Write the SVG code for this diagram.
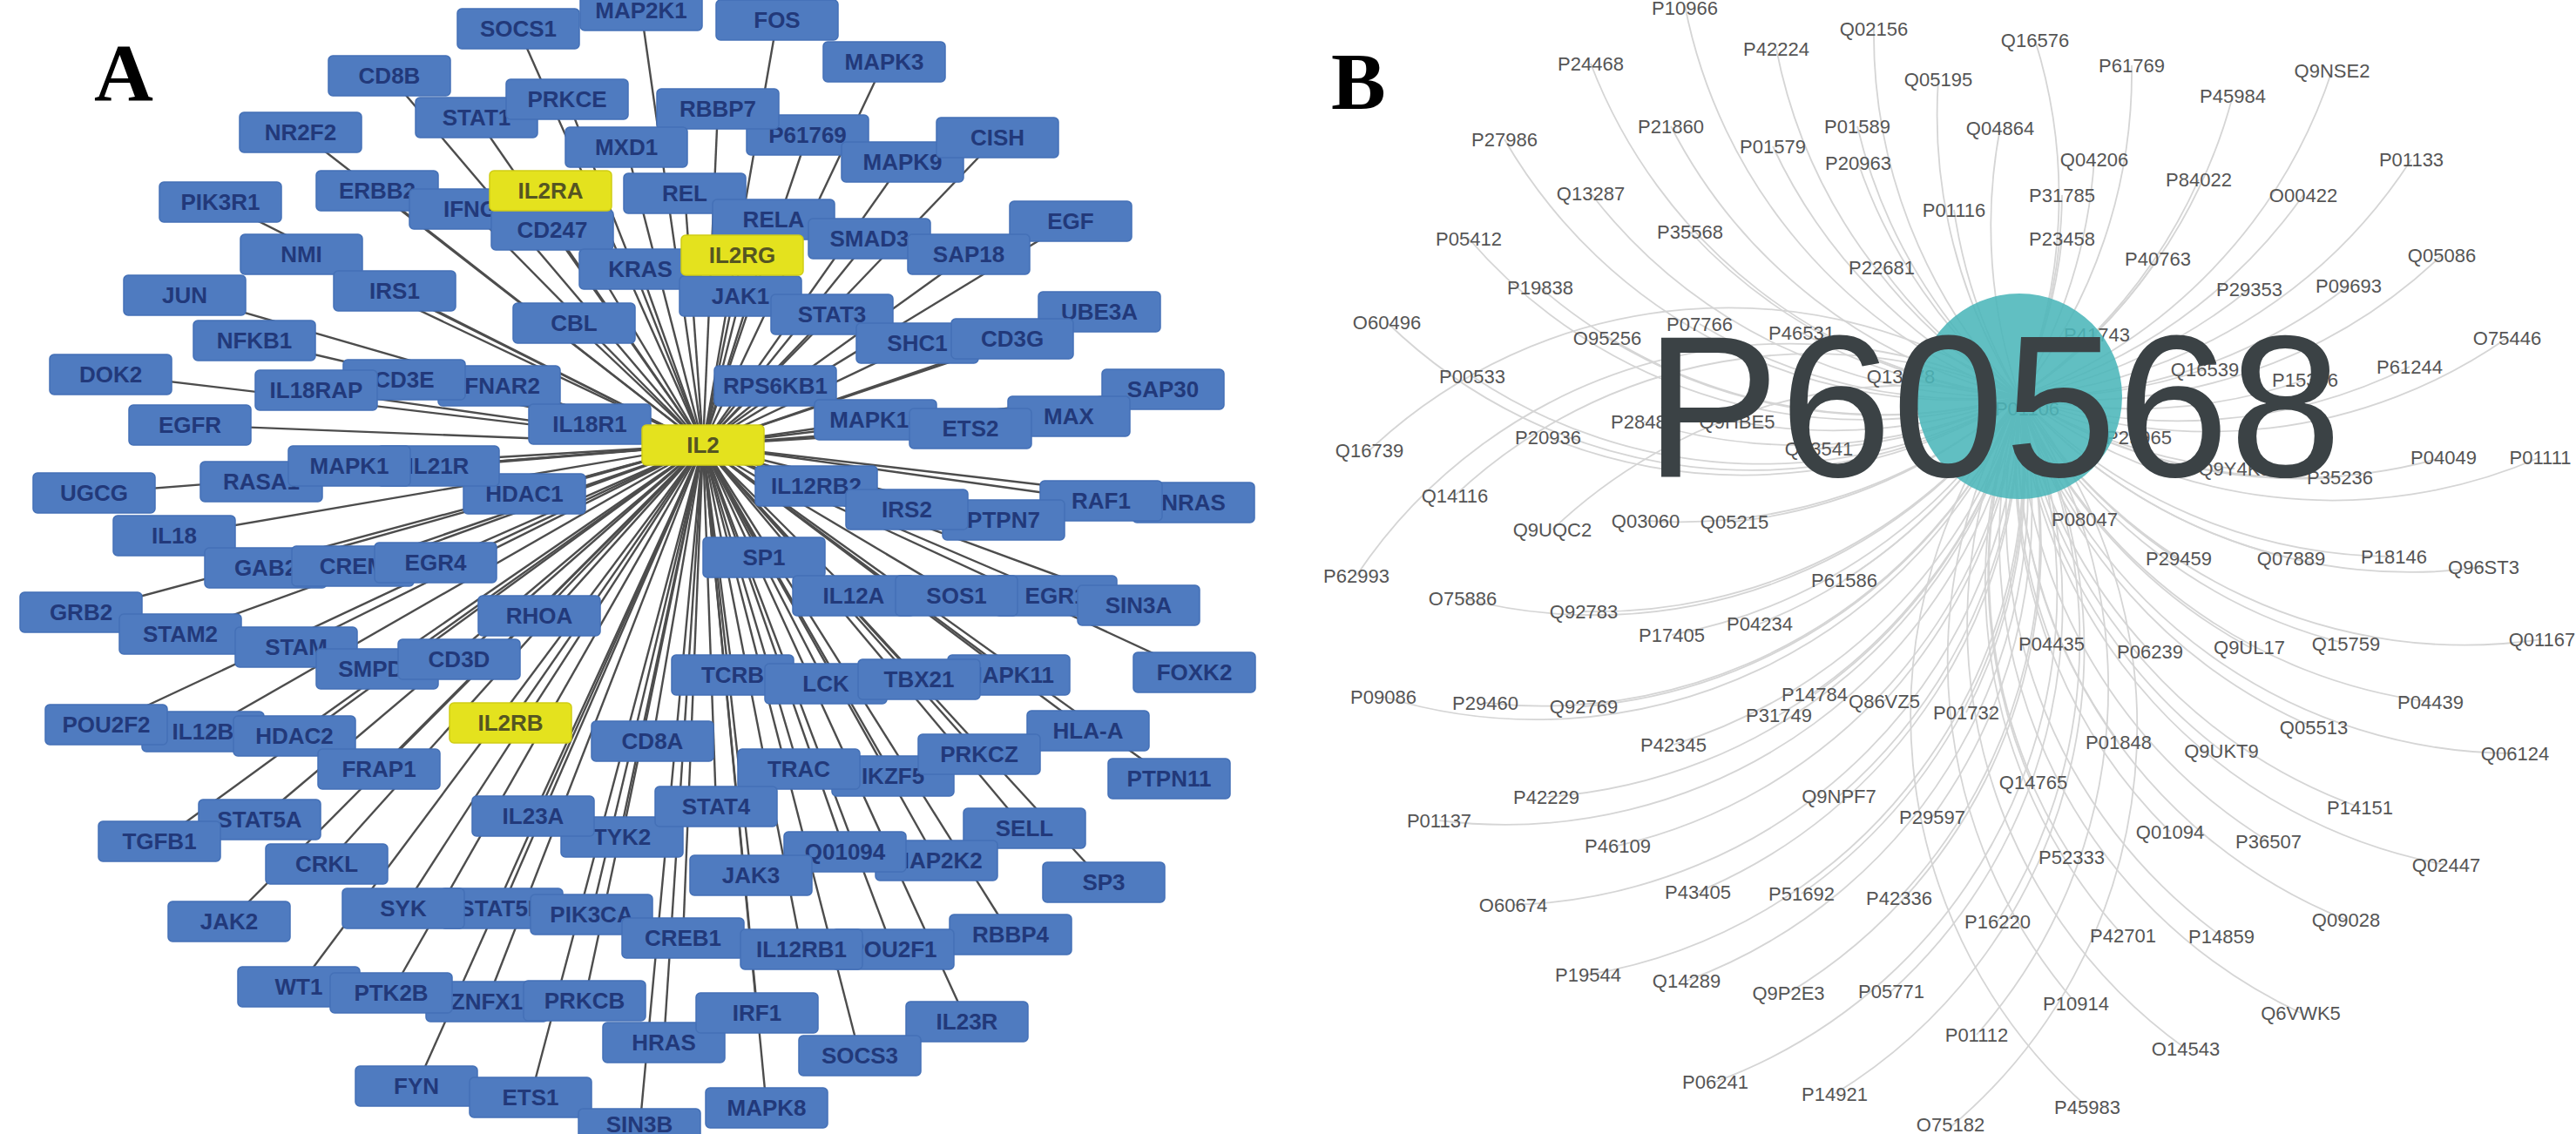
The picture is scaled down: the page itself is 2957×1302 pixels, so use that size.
<svg xmlns="http://www.w3.org/2000/svg" width="2957" height="1302" viewBox="0 0 2957 1302">
<style>
.bg{fill:#ffffff}
.e line{stroke:#4d4d4d;stroke-width:2.4}
.n rect{width:140px;height:46px;rx:5px;ry:5px;fill:#4f7bc0;stroke:#4470b6;stroke-width:1.5}
.n text{font-family:"Liberation Sans",Arial,sans-serif;font-weight:bold;font-size:26px;fill:#22397a;text-anchor:middle}
.y rect{fill:#e4e21e;stroke:#cfcd16}
.y text{fill:#555522}
.lbl{font-family:"Liberation Serif","Times New Roman",serif;font-weight:bold;font-size:94px;fill:#000}
.b path{fill:none;stroke:#d5d5d5;stroke-width:1.8}
.p text{font-family:"Liberation Sans",Arial,sans-serif;font-size:22px;fill:#555;text-anchor:middle}
.hub circle{fill:#4bb6b9;opacity:0.88}
.hub text{font-family:"Liberation Sans",Arial,sans-serif;font-size:232px;fill:#3b4245;text-anchor:middle}
</style>
<rect class="bg" x="0" y="0" width="2957" height="1302"/>
<text class="lbl" x="108" y="115">A</text>
<text class="lbl" x="1528" y="125">B</text>

<g id="edges-A" class="e">
<line x1="807" y1="511" x2="736" y2="12"/><line x1="807" y1="511" x2="892" y2="23"/><line x1="807" y1="511" x2="595" y2="33"/><line x1="807" y1="511" x2="1015" y2="71"/><line x1="807" y1="511" x2="447" y2="87"/><line x1="807" y1="511" x2="547" y2="135"/><line x1="807" y1="511" x2="651" y2="114"/><line x1="807" y1="511" x2="927" y2="155"/><line x1="807" y1="511" x2="824" y2="125"/><line x1="807" y1="511" x2="719" y2="169"/><line x1="807" y1="511" x2="345" y2="152"/><line x1="807" y1="511" x2="1036" y2="186"/><line x1="807" y1="511" x2="1145" y2="158"/><line x1="807" y1="511" x2="433" y2="219"/><line x1="807" y1="511" x2="253" y2="232"/><line x1="807" y1="511" x2="540" y2="240"/><line x1="807" y1="511" x2="634" y2="264"/><line x1="807" y1="511" x2="632" y2="219"/><line x1="807" y1="511" x2="786" y2="222"/><line x1="807" y1="511" x2="888" y2="252"/><line x1="807" y1="511" x2="1229" y2="254"/><line x1="807" y1="511" x2="998" y2="274"/><line x1="807" y1="511" x2="1112" y2="292"/><line x1="807" y1="511" x2="346" y2="292"/><line x1="807" y1="511" x2="212" y2="339"/><line x1="807" y1="511" x2="453" y2="334"/><line x1="807" y1="511" x2="735" y2="309"/><line x1="807" y1="511" x2="850" y2="340"/><line x1="807" y1="511" x2="852" y2="293"/><line x1="807" y1="511" x2="955" y2="361"/><line x1="807" y1="511" x2="1262" y2="358"/><line x1="807" y1="511" x2="1053" y2="394"/><line x1="807" y1="511" x2="1162" y2="389"/><line x1="807" y1="511" x2="659" y2="371"/><line x1="807" y1="511" x2="292" y2="391"/><line x1="807" y1="511" x2="127" y2="430"/><line x1="807" y1="511" x2="573" y2="443"/><line x1="807" y1="511" x2="464" y2="436"/><line x1="807" y1="511" x2="363" y2="448"/><line x1="807" y1="511" x2="890" y2="443"/><line x1="807" y1="511" x2="1335" y2="447"/><line x1="807" y1="511" x2="218" y2="488"/><line x1="807" y1="511" x2="677" y2="487"/><line x1="807" y1="511" x2="1005" y2="482"/><line x1="807" y1="511" x2="1227" y2="478"/><line x1="807" y1="511" x2="1114" y2="492"/><line x1="807" y1="511" x2="108" y2="566"/><line x1="807" y1="511" x2="300" y2="553"/><line x1="807" y1="511" x2="602" y2="567"/><line x1="807" y1="511" x2="503" y2="535"/><line x1="807" y1="511" x2="401" y2="535"/><line x1="807" y1="511" x2="937" y2="558"/><line x1="807" y1="511" x2="1370" y2="577"/><line x1="807" y1="511" x2="1264" y2="575"/><line x1="807" y1="511" x2="1152" y2="597"/><line x1="807" y1="511" x2="1041" y2="585"/><line x1="807" y1="511" x2="200" y2="615"/><line x1="807" y1="511" x2="305" y2="652"/><line x1="807" y1="511" x2="405" y2="650"/><line x1="807" y1="511" x2="500" y2="646"/><line x1="807" y1="511" x2="877" y2="640"/><line x1="807" y1="511" x2="980" y2="684"/><line x1="807" y1="511" x2="1212" y2="684"/><line x1="807" y1="511" x2="1098" y2="684"/><line x1="807" y1="511" x2="1307" y2="695"/><line x1="807" y1="511" x2="93" y2="703"/><line x1="807" y1="511" x2="207" y2="728"/><line x1="807" y1="511" x2="340" y2="743"/><line x1="807" y1="511" x2="433" y2="768"/><line x1="807" y1="511" x2="619" y2="707"/><line x1="807" y1="511" x2="527" y2="757"/><line x1="807" y1="511" x2="841" y2="775"/><line x1="807" y1="511" x2="948" y2="785"/><line x1="807" y1="511" x2="1158" y2="775"/><line x1="807" y1="511" x2="1055" y2="780"/><line x1="807" y1="511" x2="1371" y2="772"/><line x1="807" y1="511" x2="233" y2="840"/><line x1="807" y1="511" x2="122" y2="832"/><line x1="807" y1="511" x2="338" y2="845"/><line x1="807" y1="511" x2="435" y2="883"/><line x1="807" y1="511" x2="586" y2="830"/><line x1="807" y1="511" x2="749" y2="851"/><line x1="807" y1="511" x2="1249" y2="839"/><line x1="807" y1="511" x2="1025" y2="891"/><line x1="807" y1="511" x2="917" y2="883"/><line x1="807" y1="511" x2="1124" y2="866"/><line x1="807" y1="511" x2="1342" y2="894"/><line x1="807" y1="511" x2="298" y2="941"/><line x1="807" y1="511" x2="183" y2="966"/><line x1="807" y1="511" x2="714" y2="961"/><line x1="807" y1="511" x2="612" y2="937"/><line x1="807" y1="511" x2="822" y2="926"/><line x1="807" y1="511" x2="1176" y2="951"/><line x1="807" y1="511" x2="375" y2="992"/><line x1="807" y1="511" x2="1075" y2="988"/><line x1="807" y1="511" x2="970" y2="978"/><line x1="807" y1="511" x2="1267" y2="1013"/><line x1="807" y1="511" x2="862" y2="1005"/><line x1="807" y1="511" x2="263" y2="1058"/><line x1="807" y1="511" x2="576" y2="1043"/><line x1="807" y1="511" x2="463" y2="1043"/><line x1="807" y1="511" x2="679" y2="1050"/><line x1="807" y1="511" x2="784" y2="1077"/><line x1="807" y1="511" x2="1160" y2="1073"/><line x1="807" y1="511" x2="1025" y2="1090"/><line x1="807" y1="511" x2="920" y2="1090"/><line x1="807" y1="511" x2="343" y2="1133"/><line x1="807" y1="511" x2="559" y2="1150"/><line x1="807" y1="511" x2="449" y2="1140"/><line x1="807" y1="511" x2="671" y2="1149"/><line x1="807" y1="511" x2="762" y2="1197"/><line x1="807" y1="511" x2="869" y2="1163"/><line x1="807" y1="511" x2="1110" y2="1173"/><line x1="807" y1="511" x2="987" y2="1212"/><line x1="807" y1="511" x2="478" y2="1247"/><line x1="807" y1="511" x2="609" y2="1260"/><line x1="807" y1="511" x2="880" y2="1272"/><line x1="807" y1="511" x2="734" y2="1298"/>
</g>

<g id="nodes-A">
<g id="n-MAP2K1" class="n"><rect x="666" y="-11"/><text x="736" y="21">MAP2K1</text></g>
<g id="n-FOS" class="n"><rect x="822" y="0"/><text x="892" y="32">FOS</text></g>
<g id="n-SOCS1" class="n"><rect x="525" y="10"/><text x="595" y="42">SOCS1</text></g>
<g id="n-MAPK3" class="n"><rect x="945" y="48"/><text x="1015" y="80">MAPK3</text></g>
<g id="n-CD8B" class="n"><rect x="377" y="64"/><text x="447" y="96">CD8B</text></g>
<g id="n-STAT1" class="n"><rect x="477" y="112"/><text x="547" y="144">STAT1</text></g>
<g id="n-PRKCE" class="n"><rect x="581" y="91"/><text x="651" y="123">PRKCE</text></g>
<g id="n-P61769" class="n"><rect x="857" y="132"/><text x="927" y="164">P61769</text></g>
<g id="n-RBBP7" class="n"><rect x="754" y="102"/><text x="824" y="134">RBBP7</text></g>
<g id="n-MXD1" class="n"><rect x="649" y="146"/><text x="719" y="178">MXD1</text></g>
<g id="n-NR2F2" class="n"><rect x="275" y="129"/><text x="345" y="161">NR2F2</text></g>
<g id="n-MAPK9" class="n"><rect x="966" y="163"/><text x="1036" y="195">MAPK9</text></g>
<g id="n-CISH" class="n"><rect x="1075" y="135"/><text x="1145" y="167">CISH</text></g>
<g id="n-ERBB2" class="n"><rect x="363" y="196"/><text x="433" y="228">ERBB2</text></g>
<g id="n-PIK3R1" class="n"><rect x="183" y="209"/><text x="253" y="241">PIK3R1</text></g>
<g id="n-IFNG" class="n"><rect x="470" y="217"/><text x="540" y="249">IFNG</text></g>
<g id="n-CD247" class="n"><rect x="564" y="241"/><text x="634" y="273">CD247</text></g>
<g id="n-IL2RA" class="n y"><rect x="562" y="196"/><text x="632" y="228">IL2RA</text></g>
<g id="n-REL" class="n"><rect x="716" y="199"/><text x="786" y="231">REL</text></g>
<g id="n-RELA" class="n"><rect x="818" y="229"/><text x="888" y="261">RELA</text></g>
<g id="n-EGF" class="n"><rect x="1159" y="231"/><text x="1229" y="263">EGF</text></g>
<g id="n-SMAD3" class="n"><rect x="928" y="251"/><text x="998" y="283">SMAD3</text></g>
<g id="n-SAP18" class="n"><rect x="1042" y="269"/><text x="1112" y="301">SAP18</text></g>
<g id="n-NMI" class="n"><rect x="276" y="269"/><text x="346" y="301">NMI</text></g>
<g id="n-JUN" class="n"><rect x="142" y="316"/><text x="212" y="348">JUN</text></g>
<g id="n-IRS1" class="n"><rect x="383" y="311"/><text x="453" y="343">IRS1</text></g>
<g id="n-KRAS" class="n"><rect x="665" y="286"/><text x="735" y="318">KRAS</text></g>
<g id="n-JAK1" class="n"><rect x="780" y="317"/><text x="850" y="349">JAK1</text></g>
<g id="n-IL2RG" class="n y"><rect x="782" y="270"/><text x="852" y="302">IL2RG</text></g>
<g id="n-STAT3" class="n"><rect x="885" y="338"/><text x="955" y="370">STAT3</text></g>
<g id="n-UBE3A" class="n"><rect x="1192" y="335"/><text x="1262" y="367">UBE3A</text></g>
<g id="n-SHC1" class="n"><rect x="983" y="371"/><text x="1053" y="403">SHC1</text></g>
<g id="n-CD3G" class="n"><rect x="1092" y="366"/><text x="1162" y="398">CD3G</text></g>
<g id="n-CBL" class="n"><rect x="589" y="348"/><text x="659" y="380">CBL</text></g>
<g id="n-NFKB1" class="n"><rect x="222" y="368"/><text x="292" y="400">NFKB1</text></g>
<g id="n-DOK2" class="n"><rect x="57" y="407"/><text x="127" y="439">DOK2</text></g>
<g id="n-IFNAR2" class="n"><rect x="503" y="420"/><text x="573" y="452">IFNAR2</text></g>
<g id="n-CD3E" class="n"><rect x="394" y="413"/><text x="464" y="445">CD3E</text></g>
<g id="n-IL18RAP" class="n"><rect x="293" y="425"/><text x="363" y="457">IL18RAP</text></g>
<g id="n-RPS6KB1" class="n"><rect x="820" y="420"/><text x="890" y="452">RPS6KB1</text></g>
<g id="n-SAP30" class="n"><rect x="1265" y="424"/><text x="1335" y="456">SAP30</text></g>
<g id="n-EGFR" class="n"><rect x="148" y="465"/><text x="218" y="497">EGFR</text></g>
<g id="n-IL18R1" class="n"><rect x="607" y="464"/><text x="677" y="496">IL18R1</text></g>
<g id="n-MAPK14" class="n"><rect x="935" y="459"/><text x="1005" y="491">MAPK14</text></g>
<g id="n-MAX" class="n"><rect x="1157" y="455"/><text x="1227" y="487">MAX</text></g>
<g id="n-ETS2" class="n"><rect x="1044" y="469"/><text x="1114" y="501">ETS2</text></g>
<g id="n-UGCG" class="n"><rect x="38" y="543"/><text x="108" y="575">UGCG</text></g>
<g id="n-RASA1" class="n"><rect x="230" y="530"/><text x="300" y="562">RASA1</text></g>
<g id="n-HDAC1" class="n"><rect x="532" y="544"/><text x="602" y="576">HDAC1</text></g>
<g id="n-IL21R" class="n"><rect x="433" y="512"/><text x="503" y="544">IL21R</text></g>
<g id="n-MAPK1" class="n"><rect x="331" y="512"/><text x="401" y="544">MAPK1</text></g>
<g id="n-IL12RB2" class="n"><rect x="867" y="535"/><text x="937" y="567">IL12RB2</text></g>
<g id="n-NRAS" class="n"><rect x="1300" y="554"/><text x="1370" y="586">NRAS</text></g>
<g id="n-RAF1" class="n"><rect x="1194" y="552"/><text x="1264" y="584">RAF1</text></g>
<g id="n-PTPN7" class="n"><rect x="1082" y="574"/><text x="1152" y="606">PTPN7</text></g>
<g id="n-IRS2" class="n"><rect x="971" y="562"/><text x="1041" y="594">IRS2</text></g>
<g id="n-IL18" class="n"><rect x="130" y="592"/><text x="200" y="624">IL18</text></g>
<g id="n-GAB2" class="n"><rect x="235" y="629"/><text x="305" y="661">GAB2</text></g>
<g id="n-CREM" class="n"><rect x="335" y="627"/><text x="405" y="659">CREM</text></g>
<g id="n-EGR4" class="n"><rect x="430" y="623"/><text x="500" y="655">EGR4</text></g>
<g id="n-SP1" class="n"><rect x="807" y="617"/><text x="877" y="649">SP1</text></g>
<g id="n-IL12A" class="n"><rect x="910" y="661"/><text x="980" y="693">IL12A</text></g>
<g id="n-EGR1" class="n"><rect x="1142" y="661"/><text x="1212" y="693">EGR1</text></g>
<g id="n-SOS1" class="n"><rect x="1028" y="661"/><text x="1098" y="693">SOS1</text></g>
<g id="n-SIN3A" class="n"><rect x="1237" y="672"/><text x="1307" y="704">SIN3A</text></g>
<g id="n-GRB2" class="n"><rect x="23" y="680"/><text x="93" y="712">GRB2</text></g>
<g id="n-STAM2" class="n"><rect x="137" y="705"/><text x="207" y="737">STAM2</text></g>
<g id="n-STAM" class="n"><rect x="270" y="720"/><text x="340" y="752">STAM</text></g>
<g id="n-SMPD1" class="n"><rect x="363" y="745"/><text x="433" y="777">SMPD1</text></g>
<g id="n-RHOA" class="n"><rect x="549" y="684"/><text x="619" y="716">RHOA</text></g>
<g id="n-CD3D" class="n"><rect x="457" y="734"/><text x="527" y="766">CD3D</text></g>
<g id="n-TCRB" class="n"><rect x="771" y="752"/><text x="841" y="784">TCRB</text></g>
<g id="n-LCK" class="n"><rect x="878" y="762"/><text x="948" y="794">LCK</text></g>
<g id="n-MAPK11" class="n"><rect x="1088" y="752"/><text x="1158" y="784">MAPK11</text></g>
<g id="n-TBX21" class="n"><rect x="985" y="757"/><text x="1055" y="789">TBX21</text></g>
<g id="n-FOXK2" class="n"><rect x="1301" y="749"/><text x="1371" y="781">FOXK2</text></g>
<g id="n-IL12B" class="n"><rect x="163" y="817"/><text x="233" y="849">IL12B</text></g>
<g id="n-POU2F2" class="n"><rect x="52" y="809"/><text x="122" y="841">POU2F2</text></g>
<g id="n-HDAC2" class="n"><rect x="268" y="822"/><text x="338" y="854">HDAC2</text></g>
<g id="n-FRAP1" class="n"><rect x="365" y="860"/><text x="435" y="892">FRAP1</text></g>
<g id="n-IL2RB" class="n y"><rect x="516" y="807"/><text x="586" y="839">IL2RB</text></g>
<g id="n-CD8A" class="n"><rect x="679" y="828"/><text x="749" y="860">CD8A</text></g>
<g id="n-HLA-A" class="n"><rect x="1179" y="816"/><text x="1249" y="848">HLA-A</text></g>
<g id="n-IKZF5" class="n"><rect x="955" y="868"/><text x="1025" y="900">IKZF5</text></g>
<g id="n-TRAC" class="n"><rect x="847" y="860"/><text x="917" y="892">TRAC</text></g>
<g id="n-PRKCZ" class="n"><rect x="1054" y="843"/><text x="1124" y="875">PRKCZ</text></g>
<g id="n-PTPN11" class="n"><rect x="1272" y="871"/><text x="1342" y="903">PTPN11</text></g>
<g id="n-STAT5A" class="n"><rect x="228" y="918"/><text x="298" y="950">STAT5A</text></g>
<g id="n-TGFB1" class="n"><rect x="113" y="943"/><text x="183" y="975">TGFB1</text></g>
<g id="n-TYK2" class="n"><rect x="644" y="938"/><text x="714" y="970">TYK2</text></g>
<g id="n-IL23A" class="n"><rect x="542" y="914"/><text x="612" y="946">IL23A</text></g>
<g id="n-STAT4" class="n"><rect x="752" y="903"/><text x="822" y="935">STAT4</text></g>
<g id="n-SELL" class="n"><rect x="1106" y="928"/><text x="1176" y="960">SELL</text></g>
<g id="n-CRKL" class="n"><rect x="305" y="969"/><text x="375" y="1001">CRKL</text></g>
<g id="n-MAP2K2" class="n"><rect x="1005" y="965"/><text x="1075" y="997">MAP2K2</text></g>
<g id="n-Q01094" class="n"><rect x="900" y="955"/><text x="970" y="987">Q01094</text></g>
<g id="n-SP3" class="n"><rect x="1197" y="990"/><text x="1267" y="1022">SP3</text></g>
<g id="n-JAK3" class="n"><rect x="792" y="982"/><text x="862" y="1014">JAK3</text></g>
<g id="n-JAK2" class="n"><rect x="193" y="1035"/><text x="263" y="1067">JAK2</text></g>
<g id="n-STAT5B" class="n"><rect x="506" y="1020"/><text x="576" y="1052">STAT5B</text></g>
<g id="n-SYK" class="n"><rect x="393" y="1020"/><text x="463" y="1052">SYK</text></g>
<g id="n-PIK3CA" class="n"><rect x="609" y="1027"/><text x="679" y="1059">PIK3CA</text></g>
<g id="n-CREB1" class="n"><rect x="714" y="1054"/><text x="784" y="1086">CREB1</text></g>
<g id="n-RBBP4" class="n"><rect x="1090" y="1050"/><text x="1160" y="1082">RBBP4</text></g>
<g id="n-POU2F1" class="n"><rect x="955" y="1067"/><text x="1025" y="1099">POU2F1</text></g>
<g id="n-IL12RB1" class="n"><rect x="850" y="1067"/><text x="920" y="1099">IL12RB1</text></g>
<g id="n-WT1" class="n"><rect x="273" y="1110"/><text x="343" y="1142">WT1</text></g>
<g id="n-ZNFX1" class="n"><rect x="489" y="1127"/><text x="559" y="1159">ZNFX1</text></g>
<g id="n-PTK2B" class="n"><rect x="379" y="1117"/><text x="449" y="1149">PTK2B</text></g>
<g id="n-PRKCB" class="n"><rect x="601" y="1126"/><text x="671" y="1158">PRKCB</text></g>
<g id="n-HRAS" class="n"><rect x="692" y="1174"/><text x="762" y="1206">HRAS</text></g>
<g id="n-IRF1" class="n"><rect x="799" y="1140"/><text x="869" y="1172">IRF1</text></g>
<g id="n-IL23R" class="n"><rect x="1040" y="1150"/><text x="1110" y="1182">IL23R</text></g>
<g id="n-SOCS3" class="n"><rect x="917" y="1189"/><text x="987" y="1221">SOCS3</text></g>
<g id="n-FYN" class="n"><rect x="408" y="1224"/><text x="478" y="1256">FYN</text></g>
<g id="n-ETS1" class="n"><rect x="539" y="1237"/><text x="609" y="1269">ETS1</text></g>
<g id="n-MAPK8" class="n"><rect x="810" y="1249"/><text x="880" y="1281">MAPK8</text></g>
<g id="n-SIN3B" class="n"><rect x="664" y="1273"/><text x="734" y="1300">SIN3B</text></g>
<g id="n-IL2" class="n y"><rect x="737" y="488"/><text x="807" y="520">IL2</text></g>
</g>

<g id="edges-B" class="b">
<path d="M1934 6A600 600 0 0 0 2318 455"/><path d="M1826 73A600 600 0 0 0 2318 455"/><path d="M2039 56A600 600 0 0 0 2318 455"/><path d="M2151 33A600 600 0 0 0 2318 455"/><path d="M2336 46A600 600 0 0 1 2318 455"/><path d="M2225 91A600 600 0 0 0 2318 455"/><path d="M2447 75A600 600 0 0 1 2318 455"/><path d="M2563 110A600 600 0 0 1 2318 455"/><path d="M2677 81A600 600 0 0 1 2318 455"/><path d="M1727 160A600 600 0 0 0 2318 455"/><path d="M1918 145A600 600 0 0 0 2318 455"/><path d="M2035 168A600 600 0 0 0 2318 455"/><path d="M2132 145A600 600 0 0 0 2318 455"/><path d="M2133 187A600 600 0 0 0 2318 455"/><path d="M2296 147A600 600 0 0 0 2318 455"/><path d="M2404 183A600 600 0 0 1 2318 455"/><path d="M2524 206A600 600 0 0 1 2318 455"/><path d="M2644 224A600 600 0 0 1 2318 455"/><path d="M2768 183A600 600 0 0 1 2318 455"/><path d="M1826 222A600 600 0 0 0 2318 455"/><path d="M2367 224A600 600 0 0 1 2318 455"/><path d="M2243 241A600 600 0 0 0 2318 455"/><path d="M1940 266A600 600 0 0 0 2318 455"/><path d="M2367 274A600 600 0 0 1 2318 455"/><path d="M1686 274A600 600 0 0 0 2318 455"/><path d="M2160 307A600 600 0 0 0 2318 455"/><path d="M2477 297A600 600 0 0 1 2318 455"/><path d="M2803 293A600 600 0 0 1 2318 455"/><path d="M2582 332A600 600 0 0 1 2318 455"/><path d="M2696 328A600 600 0 0 1 2318 455"/><path d="M1768 330A600 600 0 0 0 2318 455"/><path d="M1592 370A600 600 0 0 0 2318 455"/><path d="M1845 388A600 600 0 0 0 2318 455"/><path d="M1951 372A600 600 0 0 0 2318 455"/><path d="M2068 382A600 600 0 0 0 2318 455"/><path d="M2182 432A600 600 0 0 0 2318 455"/><path d="M2407 384A600 600 0 0 1 2318 455"/><path d="M2455 502A600 600 0 0 1 2318 455"/><path d="M2878 388A600 600 0 0 1 2318 455"/><path d="M1690 432A600 600 0 0 0 2318 455"/><path d="M2531 424A600 600 0 0 1 2318 455"/><path d="M2646 436A600 600 0 0 1 2318 455"/><path d="M2766 421A600 600 0 0 1 2318 455"/><path d="M1572 517A600 600 0 0 1 2318 455"/><path d="M1777 502A600 600 0 0 0 2318 455"/><path d="M1887 484A600 600 0 0 0 2318 455"/><path d="M1994 484A600 600 0 0 0 2318 455"/><path d="M2088 515A600 600 0 0 0 2318 455"/><path d="M2327 469A600 600 0 0 1 2318 455"/><path d="M2805 525A600 600 0 0 1 2318 455"/><path d="M2916 525A600 600 0 0 1 2318 455"/><path d="M2565 538A600 600 0 0 1 2318 455"/><path d="M2686 548A600 600 0 0 1 2318 455"/><path d="M1670 569A600 600 0 0 1 2318 455"/><path d="M1782 608A600 600 0 0 1 2318 455"/><path d="M1889 598A600 600 0 0 0 2318 455"/><path d="M1991 599A600 600 0 0 0 2318 455"/><path d="M2393 596A600 600 0 0 1 2318 455"/><path d="M1557 661A600 600 0 0 1 2318 455"/><path d="M2501 641A600 600 0 0 1 2318 455"/><path d="M2630 641A600 600 0 0 1 2318 455"/><path d="M2748 639A600 600 0 0 1 2318 455"/><path d="M2851 651A600 600 0 0 1 2318 455"/><path d="M1679 687A600 600 0 0 0 2318 455"/><path d="M1818 702A600 600 0 0 0 2318 455"/><path d="M1919 729A600 600 0 0 0 2318 455"/><path d="M2117 666A600 600 0 0 0 2318 455"/><path d="M2020 716A600 600 0 0 0 2318 455"/><path d="M2355 739A600 600 0 0 1 2318 455"/><path d="M2468 748A600 600 0 0 1 2318 455"/><path d="M2582 743A600 600 0 0 1 2318 455"/><path d="M2693 739A600 600 0 0 1 2318 455"/><path d="M2918 734A600 600 0 0 1 2318 455"/><path d="M1588 800A600 600 0 0 0 2318 455"/><path d="M1705 807A600 600 0 0 0 2318 455"/><path d="M1818 811A600 600 0 0 0 2318 455"/><path d="M2083 797A600 600 0 0 0 2318 455"/><path d="M2163 805A600 600 0 0 0 2318 455"/><path d="M2042 821A600 600 0 0 0 2318 455"/><path d="M2257 818A600 600 0 0 0 2318 455"/><path d="M2790 806A600 600 0 0 1 2318 455"/><path d="M1921 855A600 600 0 0 0 2318 455"/><path d="M2656 835A600 600 0 0 1 2318 455"/><path d="M2432 852A600 600 0 0 1 2318 455"/><path d="M2887 865A600 600 0 0 1 2318 455"/><path d="M2550 862A600 600 0 0 1 2318 455"/><path d="M1775 915A600 600 0 0 0 2318 455"/><path d="M1652 942A600 600 0 0 0 2318 455"/><path d="M2111 914A600 600 0 0 0 2318 455"/><path d="M2218 938A600 600 0 0 0 2318 455"/><path d="M2334 898A600 600 0 0 1 2318 455"/><path d="M2709 927A600 600 0 0 1 2318 455"/><path d="M2491 955A600 600 0 0 1 2318 455"/><path d="M2604 966A600 600 0 0 1 2318 455"/><path d="M2808 993A600 600 0 0 1 2318 455"/><path d="M1857 971A600 600 0 0 0 2318 455"/><path d="M2378 984A600 600 0 0 1 2318 455"/><path d="M1737 1039A600 600 0 0 0 2318 455"/><path d="M1949 1024A600 600 0 0 0 2318 455"/><path d="M2068 1026A600 600 0 0 0 2318 455"/><path d="M2180 1031A600 600 0 0 0 2318 455"/><path d="M2293 1058A600 600 0 0 0 2318 455"/><path d="M2437 1074A600 600 0 0 1 2318 455"/><path d="M2693 1056A600 600 0 0 1 2318 455"/><path d="M2550 1075A600 600 0 0 1 2318 455"/><path d="M1823 1119A600 600 0 0 0 2318 455"/><path d="M1936 1126A600 600 0 0 0 2318 455"/><path d="M2053 1140A600 600 0 0 0 2318 455"/><path d="M2171 1138A600 600 0 0 0 2318 455"/><path d="M2383 1152A600 600 0 0 1 2318 455"/><path d="M2641 1163A600 600 0 0 1 2318 455"/><path d="M2269 1188A600 600 0 0 0 2318 455"/><path d="M2509 1204A600 600 0 0 1 2318 455"/><path d="M1969 1242A600 600 0 0 0 2318 455"/><path d="M2106 1256A600 600 0 0 0 2318 455"/><path d="M2396 1271A600 600 0 0 1 2318 455"/><path d="M2239 1294A600 600 0 0 0 2318 455"/>
</g>

<g id="nodes-B" class="p">
<g id="b-P10966"><text x="1934" y="17">P10966</text></g>
<g id="b-P24468"><text x="1826" y="81">P24468</text></g>
<g id="b-P42224"><text x="2039" y="64">P42224</text></g>
<g id="b-Q02156"><text x="2151" y="41">Q02156</text></g>
<g id="b-Q16576"><text x="2336" y="54">Q16576</text></g>
<g id="b-Q05195"><text x="2225" y="99">Q05195</text></g>
<g id="b-P61769"><text x="2447" y="83">P61769</text></g>
<g id="b-P45984"><text x="2563" y="118">P45984</text></g>
<g id="b-Q9NSE2"><text x="2677" y="89">Q9NSE2</text></g>
<g id="b-P27986"><text x="1727" y="168">P27986</text></g>
<g id="b-P21860"><text x="1918" y="153">P21860</text></g>
<g id="b-P01579"><text x="2035" y="176">P01579</text></g>
<g id="b-P01589"><text x="2132" y="153">P01589</text></g>
<g id="b-P20963"><text x="2133" y="195">P20963</text></g>
<g id="b-Q04864"><text x="2296" y="155">Q04864</text></g>
<g id="b-Q04206"><text x="2404" y="191">Q04206</text></g>
<g id="b-P84022"><text x="2524" y="214">P84022</text></g>
<g id="b-O00422"><text x="2644" y="232">O00422</text></g>
<g id="b-P01133"><text x="2768" y="191">P01133</text></g>
<g id="b-Q13287"><text x="1826" y="230">Q13287</text></g>
<g id="b-P31785"><text x="2367" y="232">P31785</text></g>
<g id="b-P01116"><text x="2243" y="249">P01116</text></g>
<g id="b-P35568"><text x="1940" y="274">P35568</text></g>
<g id="b-P23458"><text x="2367" y="282">P23458</text></g>
<g id="b-P05412"><text x="1686" y="282">P05412</text></g>
<g id="b-P22681"><text x="2160" y="315">P22681</text></g>
<g id="b-P40763"><text x="2477" y="305">P40763</text></g>
<g id="b-Q05086"><text x="2803" y="301">Q05086</text></g>
<g id="b-P29353"><text x="2582" y="340">P29353</text></g>
<g id="b-P09693"><text x="2696" y="336">P09693</text></g>
<g id="b-P19838"><text x="1768" y="338">P19838</text></g>
<g id="b-O60496"><text x="1592" y="378">O60496</text></g>
<g id="b-O95256"><text x="1845" y="396">O95256</text></g>
<g id="b-P07766"><text x="1951" y="380">P07766</text></g>
<g id="b-P46531"><text x="2068" y="390">P46531</text></g>
<g id="b-Q13478"><text x="2182" y="440">Q13478</text></g>
<g id="b-P41743"><text x="2407" y="392">P41743</text></g>
<g id="b-P29965"><text x="2455" y="510">P29965</text></g>
<g id="b-O75446"><text x="2878" y="396">O75446</text></g>
<g id="b-P00533"><text x="1690" y="440">P00533</text></g>
<g id="b-Q16539"><text x="2531" y="432">Q16539</text></g>
<g id="b-P15336"><text x="2646" y="444">P15336</text></g>
<g id="b-P61244"><text x="2766" y="429">P61244</text></g>
<g id="b-Q16739"><text x="1572" y="525">Q16739</text></g>
<g id="b-P20936"><text x="1777" y="510">P20936</text></g>
<g id="b-P28482"><text x="1887" y="492">P28482</text></g>
<g id="b-Q9HBE5"><text x="1994" y="492">Q9HBE5</text></g>
<g id="b-Q13541"><text x="2088" y="523">Q13541</text></g>
<g id="b-P01106"><text x="2327" y="477">P01106</text></g>
<g id="b-P04049"><text x="2805" y="533">P04049</text></g>
<g id="b-P01111"><text x="2916" y="533">P01111</text></g>
<g id="b-Q9Y4K3"><text x="2565" y="546">Q9Y4K3</text></g>
<g id="b-P35236"><text x="2686" y="556">P35236</text></g>
<g id="b-Q14116"><text x="1670" y="577">Q14116</text></g>
<g id="b-Q9UQC2"><text x="1782" y="616">Q9UQC2</text></g>
<g id="b-Q03060"><text x="1889" y="606">Q03060</text></g>
<g id="b-Q05215"><text x="1991" y="607">Q05215</text></g>
<g id="b-P08047"><text x="2393" y="604">P08047</text></g>
<g id="b-P62993"><text x="1557" y="669">P62993</text></g>
<g id="b-P29459"><text x="2501" y="649">P29459</text></g>
<g id="b-Q07889"><text x="2630" y="649">Q07889</text></g>
<g id="b-P18146"><text x="2748" y="647">P18146</text></g>
<g id="b-Q96ST3"><text x="2851" y="659">Q96ST3</text></g>
<g id="b-O75886"><text x="1679" y="695">O75886</text></g>
<g id="b-Q92783"><text x="1818" y="710">Q92783</text></g>
<g id="b-P17405"><text x="1919" y="737">P17405</text></g>
<g id="b-P61586"><text x="2117" y="674">P61586</text></g>
<g id="b-P04234"><text x="2020" y="724">P04234</text></g>
<g id="b-P04435"><text x="2355" y="747">P04435</text></g>
<g id="b-P06239"><text x="2468" y="756">P06239</text></g>
<g id="b-Q9UL17"><text x="2582" y="751">Q9UL17</text></g>
<g id="b-Q15759"><text x="2693" y="747">Q15759</text></g>
<g id="b-Q01167"><text x="2918" y="742">Q01167</text></g>
<g id="b-P09086"><text x="1588" y="808">P09086</text></g>
<g id="b-P29460"><text x="1705" y="815">P29460</text></g>
<g id="b-Q92769"><text x="1818" y="819">Q92769</text></g>
<g id="b-P14784"><text x="2083" y="805">P14784</text></g>
<g id="b-Q86VZ5"><text x="2163" y="813">Q86VZ5</text></g>
<g id="b-P31749"><text x="2042" y="829">P31749</text></g>
<g id="b-P01732"><text x="2257" y="826">P01732</text></g>
<g id="b-P04439"><text x="2790" y="814">P04439</text></g>
<g id="b-P42345"><text x="1921" y="863">P42345</text></g>
<g id="b-Q05513"><text x="2656" y="843">Q05513</text></g>
<g id="b-P01848"><text x="2432" y="860">P01848</text></g>
<g id="b-Q06124"><text x="2887" y="873">Q06124</text></g>
<g id="b-Q9UKT9"><text x="2550" y="870">Q9UKT9</text></g>
<g id="b-P42229"><text x="1775" y="923">P42229</text></g>
<g id="b-P01137"><text x="1652" y="950">P01137</text></g>
<g id="b-Q9NPF7"><text x="2111" y="922">Q9NPF7</text></g>
<g id="b-P29597"><text x="2218" y="946">P29597</text></g>
<g id="b-Q14765"><text x="2334" y="906">Q14765</text></g>
<g id="b-P14151"><text x="2709" y="935">P14151</text></g>
<g id="b-Q01094"><text x="2491" y="963">Q01094</text></g>
<g id="b-P36507"><text x="2604" y="974">P36507</text></g>
<g id="b-Q02447"><text x="2808" y="1001">Q02447</text></g>
<g id="b-P46109"><text x="1857" y="979">P46109</text></g>
<g id="b-P52333"><text x="2378" y="992">P52333</text></g>
<g id="b-O60674"><text x="1737" y="1047">O60674</text></g>
<g id="b-P43405"><text x="1949" y="1032">P43405</text></g>
<g id="b-P51692"><text x="2068" y="1034">P51692</text></g>
<g id="b-P42336"><text x="2180" y="1039">P42336</text></g>
<g id="b-P16220"><text x="2293" y="1066">P16220</text></g>
<g id="b-P42701"><text x="2437" y="1082">P42701</text></g>
<g id="b-Q09028"><text x="2693" y="1064">Q09028</text></g>
<g id="b-P14859"><text x="2550" y="1083">P14859</text></g>
<g id="b-P19544"><text x="1823" y="1127">P19544</text></g>
<g id="b-Q14289"><text x="1936" y="1134">Q14289</text></g>
<g id="b-Q9P2E3"><text x="2053" y="1148">Q9P2E3</text></g>
<g id="b-P05771"><text x="2171" y="1146">P05771</text></g>
<g id="b-P10914"><text x="2383" y="1160">P10914</text></g>
<g id="b-Q6VWK5"><text x="2641" y="1171">Q6VWK5</text></g>
<g id="b-P01112"><text x="2269" y="1196">P01112</text></g>
<g id="b-O14543"><text x="2509" y="1212">O14543</text></g>
<g id="b-P06241"><text x="1969" y="1250">P06241</text></g>
<g id="b-P14921"><text x="2106" y="1264">P14921</text></g>
<g id="b-P45983"><text x="2396" y="1279">P45983</text></g>
<g id="b-O75182"><text x="2239" y="1299">O75182</text></g>
</g>

<g id="b-P60568" class="hub">
<circle cx="2318" cy="455" r="118"/>
<text x="2288" y="547">P60568</text>
</g>
</svg>
